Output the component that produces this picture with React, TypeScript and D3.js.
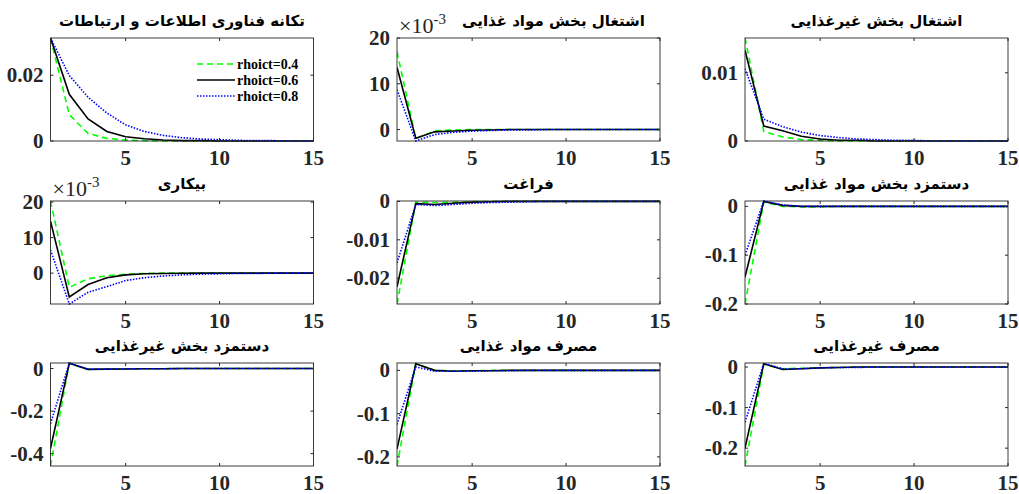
import React from "react";
import * as d3 from "d3";

// horizon (quarters) and x ticks
const periods = d3.range(1, 16);
const xTicks = [5, 10, 15];

const seriesNames = ["rhoict=0.4", "rhoict=0.6", "rhoict=0.8"];

// تکانه فناوری اطلاعات و ارتباطات
const ictG = [0.0313, 0.008, 0.0023, 0.0008, 0.0003, 0.0001, 0, 0, 0, 0, 0, 0, 0, 0, 0];
const ictK = [0.0313, 0.0142, 0.0067, 0.0029, 0.0013, 0.0007, 0.0003, 0.0001, 0.0001, 0, 0, 0, 0, 0, 0];
const ictB = [0.0313, 0.0199, 0.0133, 0.0085, 0.0049, 0.0029, 0.0017, 0.001, 0.0006, 0.0004, 0.0002, 0.0001, 0.0001, 0, 0];

// اشتغال بخش مواد غذایی
const foodEmpG = [0.017, -0.002, -0.0003, -0.0001, 0, 0, 0, 0, 0, 0, 0, 0, 0, 0, 0];
const foodEmpK = [0.0136, -0.0019, -0.0005, -0.0003, -0.00015, -0.0001, 0, 0, 0, 0, 0, 0, 0, 0, 0];
const foodEmpB = [0.0087, -0.0025, -0.0011, -0.0006, -0.00035, -0.0002, -0.0001, -0.0001, 0, 0, 0, 0, 0, 0, 0];

// اشتغال بخش غیرغذایی
const nonFoodEmpG = [0.0151, 0.0014, 0.0006, 0.0002, 0.0001, 0, 0, 0, 0, 0, 0, 0, 0, 0, 0];
const nonFoodEmpK = [0.0133, 0.0022, 0.0015, 0.0007, 0.0003, 0.0001, 0.0001, 0, 0, 0, 0, 0, 0, 0, 0];
const nonFoodEmpB = [0.0106, 0.0032, 0.0021, 0.0013, 0.0008, 0.0005, 0.0003, 0.0002, 0.0001, 0.0001, 0, 0, 0, 0, 0];

// بیکاری
const unempG = [0.0203, -0.004, -0.0016, -0.0007, -0.0003, -0.0001, 0, 0, 0, 0, 0, 0, 0, 0, 0];
const unempK = [0.0146, -0.0067, -0.0032, -0.0013, -0.0005, -0.0002, -0.0001, -0.00005, 0, 0, 0, 0, 0, 0, 0];
const unempB = [0.0065, -0.0087, -0.0054, -0.0038, -0.0021, -0.0013, -0.0008, -0.0005, -0.0003, -0.0002, -0.0001, -0.0001, 0, 0, 0];

// فراغت
const leisureG = [-0.0267, -0.0002, -0.0003, -0.0002, -0.0001, 0, 0, 0, 0, 0, 0, 0, 0, 0, 0];
const leisureK = [-0.0222, -0.0006, -0.0008, -0.0005, -0.0002, -0.0001, 0, 0, 0, 0, 0, 0, 0, 0, 0];
const leisureB = [-0.016, -0.0008, -0.0011, -0.0008, -0.0005, -0.0003, -0.0002, -0.0001, 0, 0, 0, 0, 0, 0, 0];

// دستمزد بخش مواد غذایی
const foodWageG = [-0.2, 0.009, 0.0, -0.001, -0.001, 0, 0, 0, 0, 0, 0, 0, 0, 0, 0];
const foodWageK = [-0.145, 0.01, 0.002, 0, 0, 0, 0, 0, 0, 0, 0, 0, 0, 0, 0];
const foodWageB = [-0.1, 0.011, 0.003, 0.0, 0, 0, 0, 0, 0, 0, 0, 0, 0, 0, 0];

// دستمزد بخش غیرغذایی
const nonFoodWageG = [-0.458, 0.024, -0.004, -0.003, -0.002, -0.001, -0.001, 0, 0, 0, 0, 0, 0, 0, 0];
const nonFoodWageK = [-0.376, 0.025, -0.004, -0.003, -0.002, -0.001, -0.001, 0, 0, 0, 0, 0, 0, 0, 0];
const nonFoodWageB = [-0.259, 0.026, -0.003, -0.003, -0.002, -0.001, -0.001, 0, 0, 0, 0, 0, 0, 0, 0];

// مصرف مواد غذایی
const foodConsG = [-0.221, 0.016, 0.0, -0.001, -0.001, 0, 0, 0, 0, 0, 0, 0, 0, 0, 0];
const foodConsK = [-0.182, 0.015, 0.0, -0.002, -0.001, -0.001, 0, 0, 0, 0, 0, 0, 0, 0, 0];
const foodConsB = [-0.125, 0.008, -0.002, -0.002, -0.002, -0.001, -0.001, 0, 0, 0, 0, 0, 0, 0, 0];

// مصرف غیرغذایی
const nonFoodConsG = [-0.244, 0.007, -0.004, -0.003, -0.002, -0.001, 0, 0, 0, 0, 0, 0, 0, 0, 0];
const nonFoodConsK = [-0.2, 0.008, -0.006, -0.004, -0.002, -0.001, 0, 0, 0, 0, 0, 0, 0, 0, 0];
const nonFoodConsB = [-0.136, 0.009, -0.004, -0.004, -0.002, -0.001, -0.001, 0, 0, 0, 0, 0, 0, 0, 0];

const titles = [
  "تکانه فناوری اطلاعات و ارتباطات",
  "اشتغال بخش مواد غذایی",
  "اشتغال بخش غیرغذایی",
  "بیکاری",
  "فراغت",
  "دستمزد بخش مواد غذایی",
  "دستمزد بخش غیرغذایی",
  "مصرف مواد غذایی",
  "مصرف غیرغذایی",
];

const yDomains = [
  [0, 0.0313],
  [-0.0025, 0.02],
  [0, 0.0151],
  [-0.0087, 0.0203],
  [-0.0267, 0.0001],
  [-0.2, 0.011],
  [-0.458, 0.026],
  [-0.221, 0.017],
  [-0.244, 0.01],
];

const yTicks = [
  [0, 0.02],
  [0, 0.01, 0.02],
  [0, 0.01],
  [0, 0.01, 0.02],
  [-0.02, -0.01, 0],
  [-0.2, -0.1, 0],
  [-0.4, -0.2, 0],
  [-0.2, -0.1, 0],
  [-0.2, -0.1, 0],
];

const yTickLabels = [
  ["0", "0.02"],
  ["0", "10", "20"],
  ["0", "0.01"],
  ["0", "10", "20"],
  ["-0.02", "-0.01", "0"],
  ["-0.2", "-0.1", "0"],
  ["-0.4", "-0.2", "0"],
  ["-0.2", "-0.1", "0"],
  ["-0.2", "-0.1", "0"],
];

const panelSeries = [
  [ictG, ictK, ictB],
  [foodEmpG, foodEmpK, foodEmpB],
  [nonFoodEmpG, nonFoodEmpK, nonFoodEmpB],
  [unempG, unempK, unempB],
  [leisureG, leisureK, leisureB],
  [foodWageG, foodWageK, foodWageB],
  [nonFoodWageG, nonFoodWageK, nonFoodWageB],
  [foodConsG, foodConsK, foodConsB],
  [nonFoodConsG, nonFoodConsK, nonFoodConsB],
];

const hasExponent = [false, true, false, true, false, false, false, false, false];

// layout
const colLeft = [50.5, 397, 745];
const rowTop = [38, 201, 363];
const W = 263;
const H = 103;

const lineStyles = [
  { color: "#00ff00", dash: "6,4" },
  { color: "#000000", dash: "none" },
  { color: "#0000ff", dash: "1.5,1.5" },
];

const tickFont = "'Liberation Serif', 'Times New Roman', serif";
const titleFont = "'DejaVu Sans', sans-serif";
const axisColor = "#262626";

function Panel({ idx }: { idx: number }) {
  const left = colLeft[idx % 3];
  const top = rowTop[Math.floor(idx / 3)];
  const x = d3.scaleLinear().domain([1, 15]).range([left, left + W]);
  const y = d3.scaleLinear().domain(yDomains[idx]).range([top + H, top]);
  const line = d3
    .line<number>()
    .x((_, i) => x(periods[i]))
    .y((d) => y(d));
  const tl = 3;
  // second panel's title is pushed right to clear the exponent label
  const titleX = idx === 1 ? left + W / 2 + 25 : left + W / 2;

  return (
    <g>
      <text
        x={titleX}
        y={top - 12}
        textAnchor="middle"
        fontFamily={titleFont}
        fontWeight="bold"
        fontSize={15}
        fill="#000"
      >
        {titles[idx]}
      </text>
      {hasExponent[idx] && (
        <text x={left + 2} y={top - 5} fontFamily={tickFont} fontSize={22} fill="#262626">
          ×10
          <tspan fontSize={15} dy={-9}>
            -3
          </tspan>
        </text>
      )}
      <rect x={left} y={top} width={W} height={H} fill="#fff" />
      <defs>
        <clipPath id={`clip${idx}`}>
          <rect x={left} y={top - 1} width={W} height={H + 2} />
        </clipPath>
      </defs>
      <g clipPath={`url(#clip${idx})`}>
        {panelSeries[idx].map((s, i) => (
          <path
            key={i}
            d={line(s) || ""}
            fill="none"
            stroke={lineStyles[i].color}
            strokeWidth={1.6}
            strokeDasharray={lineStyles[i].dash}
          />
        ))}
      </g>
      <rect x={left} y={top} width={W} height={H} fill="none" stroke={axisColor} strokeWidth={0.9} />
      {xTicks.map((t) => (
        <g key={t}>
          <line x1={x(t)} x2={x(t)} y1={top + H} y2={top + H - tl} stroke={axisColor} />
          <line x1={x(t)} x2={x(t)} y1={top} y2={top + tl} stroke={axisColor} />
          <text
            x={x(t)}
            y={top + H + 24}
            textAnchor="middle"
            fontFamily={tickFont}
            fontWeight="bold"
            fontSize={21}
            fill="#262626"
          >
            {t}
          </text>
        </g>
      ))}
      {yTicks[idx].map((t, i) => (
        <g key={i}>
          <line x1={left} x2={left + tl} y1={y(t)} y2={y(t)} stroke={axisColor} />
          <line x1={left + W} x2={left + W - tl} y1={y(t)} y2={y(t)} stroke={axisColor} />
          <text
            x={left - 7}
            y={y(t) + 7}
            textAnchor="end"
            fontFamily={tickFont}
            fontWeight="bold"
            fontSize={21}
            fill="#262626"
          >
            {yTickLabels[idx][i]}
          </text>
        </g>
      ))}
    </g>
  );
}

function Legend() {
  const lx = 197;
  const rows = [64, 80, 96];
  return (
    <g>
      {seriesNames.map((name, i) => (
        <g key={name}>
          <line
            x1={lx}
            x2={lx + 38}
            y1={rows[i]}
            y2={rows[i]}
            stroke={lineStyles[i].color}
            strokeWidth={1.6}
            strokeDasharray={lineStyles[i].dash}
          />
          <text
            x={lx + 40}
            y={rows[i] + 5}
            fontFamily={tickFont}
            fontWeight="bold"
            fontSize={14}
            fill="#000"
          >
            {name}
          </text>
        </g>
      ))}
    </g>
  );
}

export default function App() {
  return (
    <svg
      width={1019}
      height={494}
      style={{ position: "absolute", left: 0, top: 0, background: "#fff" }}
    >
      <rect width={1019} height={494} fill="#fff" />
      {titles.map((_, i) => (
        <Panel key={i} idx={i} />
      ))}
      <Legend />
    </svg>
  );
}
